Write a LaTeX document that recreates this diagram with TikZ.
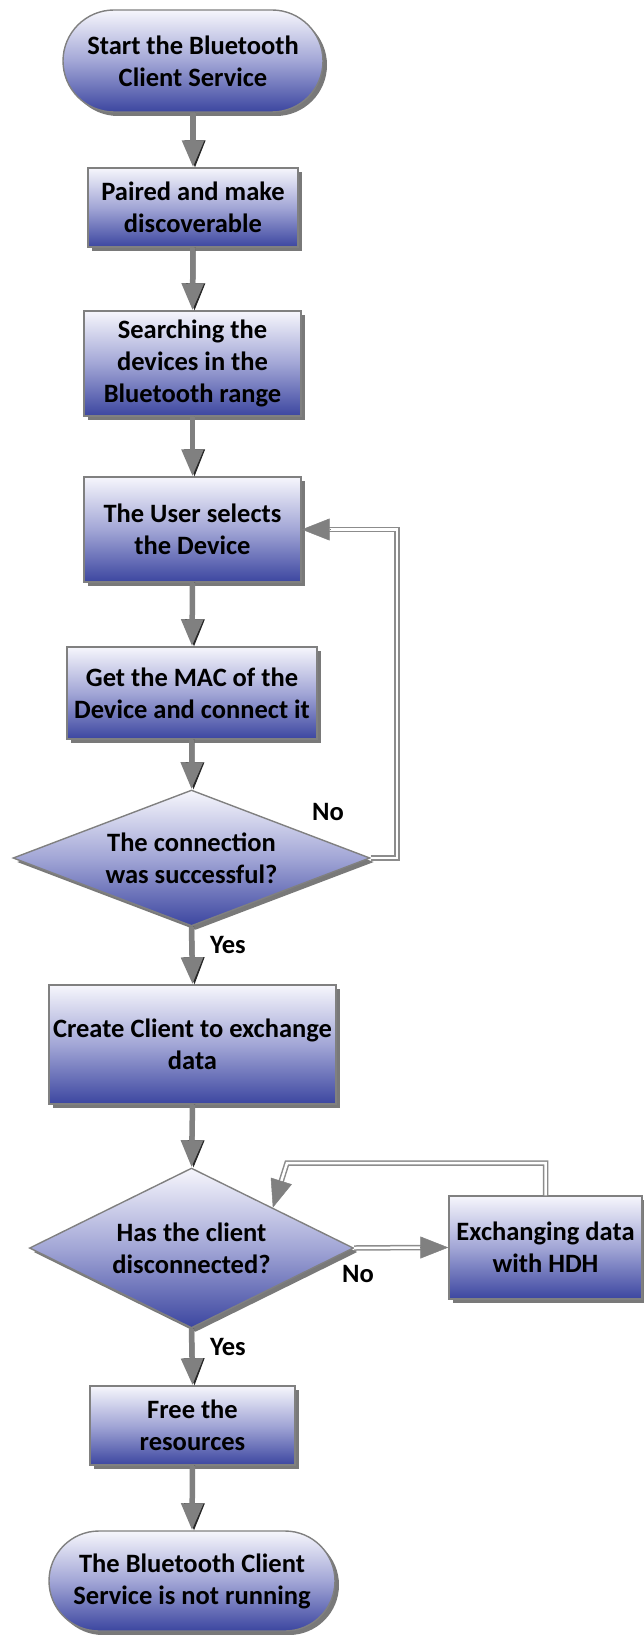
\documentclass[tikz,border=0pt]{standalone}
\usepackage{fontspec}
\setmainfont{Carlito}
\usetikzlibrary{shapes.geometric,shapes.misc,shadows,arrows.meta,calc}
\definecolor{topc}{RGB}{246,246,252}
\definecolor{midc}{RGB}{162,166,214}
\definecolor{botc}{RGB}{60,70,160}
\definecolor{edgec}{RGB}{128,128,128}
\definecolor{arrc}{RGB}{128,128,128}
\definecolor{lnc}{RGB}{140,140,140}
\newcommand\txt{\bfseries\fontsize{26.5}{32}\selectfont}
\newcommand\flowto[2]{\draw[flowshade] (#1) -- (#2); \draw[flow] (#1) -- (#2);}
\tikzset{
 base/.style={draw=edgec, line width=1.4pt, top color=topc, bottom color=botc, middle color=midc,
   drop shadow={shadow xshift=4pt, shadow yshift=-4pt, fill=black!70, opacity=0.75},
   align=center, inner sep=0pt, font=\txt},
 procbox/.style={base, rectangle},
 termbox/.style={base, rounded rectangle},
 decbox/.style={base, diamond},
 lbl/.style={font=\txt, inner sep=0pt},
 flow/.style={draw=arrc, line width=5.5pt, -{Triangle[width=21pt,length=27pt]}},
 flowshade/.style={draw=black!85, line width=1pt, -{Triangle[width=21pt,length=27pt]}, transform canvas={xshift=2pt}},
 dbl/.style={draw=lnc, line width=1.5pt, double=white, double distance=2.5pt},
 tipg/.style={draw=arrc, fill=arrc, line width=0.5pt, -{Triangle[width=22pt,length=28pt]}},
}
\begin{document}
\begin{tikzpicture}[x=1pt,y=-1pt]
\useasboundingbox (0,0) rectangle (643,1635);
\node[termbox, minimum width=260pt, minimum height=102pt] (start) at (193,61) {Start the Bluetooth\\Client Service};
\node[procbox, minimum width=210pt, minimum height=79pt] (b2) at (193,207.5) {Paired and make\\discoverable};
\node[procbox, minimum width=217pt, minimum height=105pt] (b3) at (192.5,363.5) {Searching the\\devices in the\\Bluetooth range};
\node[procbox, minimum width=217pt, minimum height=105pt] (b4) at (192.5,529.5) {The User selects\\the Device};
\node[procbox, minimum width=250pt, minimum height=92pt] (b5) at (192,693) {Get the MAC of the\\Device and connect it};
\node[decbox, minimum width=357pt, minimum height=136pt, shape aspect=2.625] (d1) at (191.5,858) {The connection\\was successful?};
\node[procbox, minimum width=287pt, minimum height=119pt] (b6) at (192.5,1044.5) {Create Client to exchange\\data};
\node[decbox, minimum width=324pt, minimum height=160pt, shape aspect=2.025] (d2) at (191.5,1248) {Has the client\\disconnected?};
\node[procbox, minimum width=193pt, minimum height=103pt] (b7) at (545.5,1247.5) {Exchanging data\\with HDH};
\node[procbox, minimum width=205pt, minimum height=79pt] (b8) at (192.5,1425.5) {Free the\\resources};
\node[termbox, minimum width=286pt, minimum height=100pt] (end) at (192,1581) {The Bluetooth Client\\Service is not running};

\node[lbl] (no1) at (328,812) {No};
\node[lbl] (yes1) at (228,945) {Yes};
\node[lbl] (no2) at (358,1274) {No};
\node[lbl] (yes2) at (228,1347) {Yes};

\flowto{start.south}{b2.north}
\flowto{b2.south}{b3.north}
\flowto{b3.south}{b4.north}
\flowto{b4.south}{b5.north}
\flowto{b5.south}{d1.north}
\flowto{d1.south}{b6.north}
\flowto{b6.south}{d2.north}
\flowto{d2.south}{b8.north}
\flowto{b8.south}{end.north}

\coordinate (r1) at (397,529.5);
\draw[dbl] (d1.east) -- (d1.east -| r1) |- ($(b4.east)+(27,0)$);
\draw[tipg] ($(b4.east)+(28,0)$) -- (b4.east);

\draw[dbl] (d2.east) -- ($(b7.west)+(-26,0)$);
\draw[tipg] ($(b7.west)+(-27,0)$) -- (b7.west);

\coordinate (c2) at (287,1163);
\draw[dbl] (b7.north) |- (c2) -- ($(d2.north east)!27pt!(c2)$);
\draw[tipg] ($(d2.north east)!28pt!(c2)$) -- (d2.north east);
\end{tikzpicture}
\end{document}
